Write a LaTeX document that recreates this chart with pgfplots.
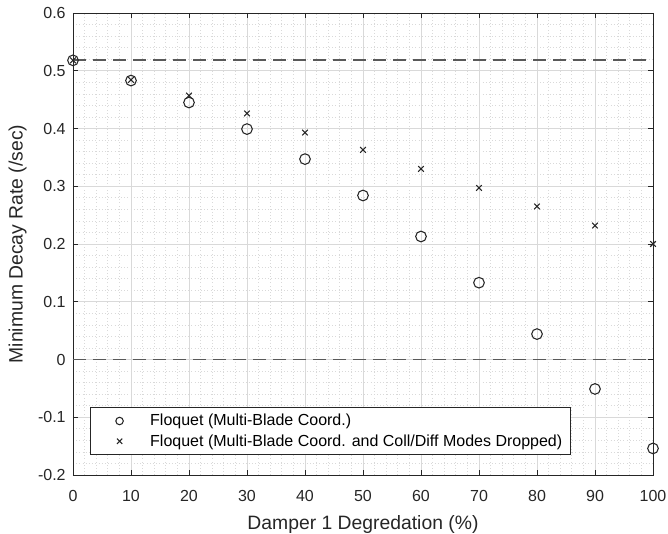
\documentclass[border=0pt]{standalone}
\usepackage{pgfplots}
\pgfplotsset{compat=1.18}
\usepackage{fontspec}
\setmainfont{Liberation Sans}
\usetikzlibrary{calc}
\definecolor{gridc}{gray}{0.85}
\definecolor{axc}{gray}{0.15}
\definecolor{dashc}{gray}{0.35}
\pgfplotsset{
  legimg/.style={legend image code/.code={
    \path[draw=none, fill=none] (0pt,-3pt) rectangle (39pt,3pt);
    \draw[mark repeat=2, mark phase=2, ##1, mark size=2.8pt] plot coordinates {(0pt,0pt) (18pt,0pt) (39pt,0pt)};
  }},
}
\begin{document}
\begin{tikzpicture}
  \begin{axis}[
    name=ax,
    scale only axis,
    width=435pt, height=346.5pt,
    xmin=0, xmax=100, ymin=-0.2, ymax=0.6,
    xtick={0,10,...,100},
    ytick={-0.2,-0.1,0,0.1,0.2,0.3,0.4,0.5,0.6},
    minor x tick num=4, minor y tick num=4,
    grid=both,
    major grid style={gridc, line width=0.5pt},
    minor grid style={gridc, dotted, line width=0.5pt},
    tick align=inside,
    major tick length=4pt, minor tick length=0pt,
    axis line style={axc, line width=0.6pt},
    tick style={axc, line width=0.6pt},
    yticklabel style={/pgf/number format/fixed, /pgf/number format/precision=1, xshift=-2pt},
    xticklabel style={yshift=-8pt},
    /pgf/number format/assume math mode=true,
    tick label style={font=\fontsize{12}{14}\selectfont, text=axc},
    label style={font=\fontsize{14.5}{17}\selectfont, text=axc},
    xlabel={Damper 1 Degredation (\%)},
    ylabel={Minimum Decay Rate (/sec)},
    xlabel style={at={(axis description cs:0.5,0)}, anchor=north, inner sep=0pt, yshift=-30pt},
    ylabel style={at={(axis description cs:0,0.5)}, anchor=south, inner sep=0pt, yshift=34.5pt},
    clip=false,
    legend cell align=left,
    legend style={at={(0.029,0.043)}, anchor=south west,
      font=\fontsize{12}{14}\selectfont, draw=axc, line width=0.6pt,
      inner xsep=4pt, inner ysep=3pt, row sep=1pt},
  ]
    \addplot[dashc, dash pattern=on 10pt off 5pt, line width=1.3pt, forget plot]
      coordinates {(0,0.518) (100,0.518)};
    \addplot[dashc, dash pattern=on 10pt off 5pt, line width=1.3pt, forget plot]
      coordinates {(0,0) (100,0)};
    \addplot[only marks, legimg, mark=o, mark size=4pt, mark options={draw=axc, line width=0.8pt}]
      coordinates {(0,0.518) (10,0.483) (20,0.445) (30,0.399) (40,0.347) (50,0.284)
        (60,0.213) (70,0.133) (80,0.044) (90,-0.051) (100,-0.154)};
    \addplot[only marks, legimg, mark=x, mark size=3pt, mark options={draw=axc, line width=0.8pt}]
      coordinates {(0,0.518) (10,0.484) (20,0.457) (30,0.426) (40,0.393) (50,0.363)
        (60,0.330) (70,0.297) (80,0.265) (90,0.232) (100,0.200)};
    \legend{Floquet (Multi-Blade Coord.),
      Floquet (Multi-Blade Coord. and Coll/Diff Modes Dropped)}
  \end{axis}
  \pgfresetboundingbox
  \path ($(ax.south west)+(-54.75pt,-44.25pt)$) rectangle ($(ax.north east)+(11.25pt,9.75pt)$);
\end{tikzpicture}
\end{document}
